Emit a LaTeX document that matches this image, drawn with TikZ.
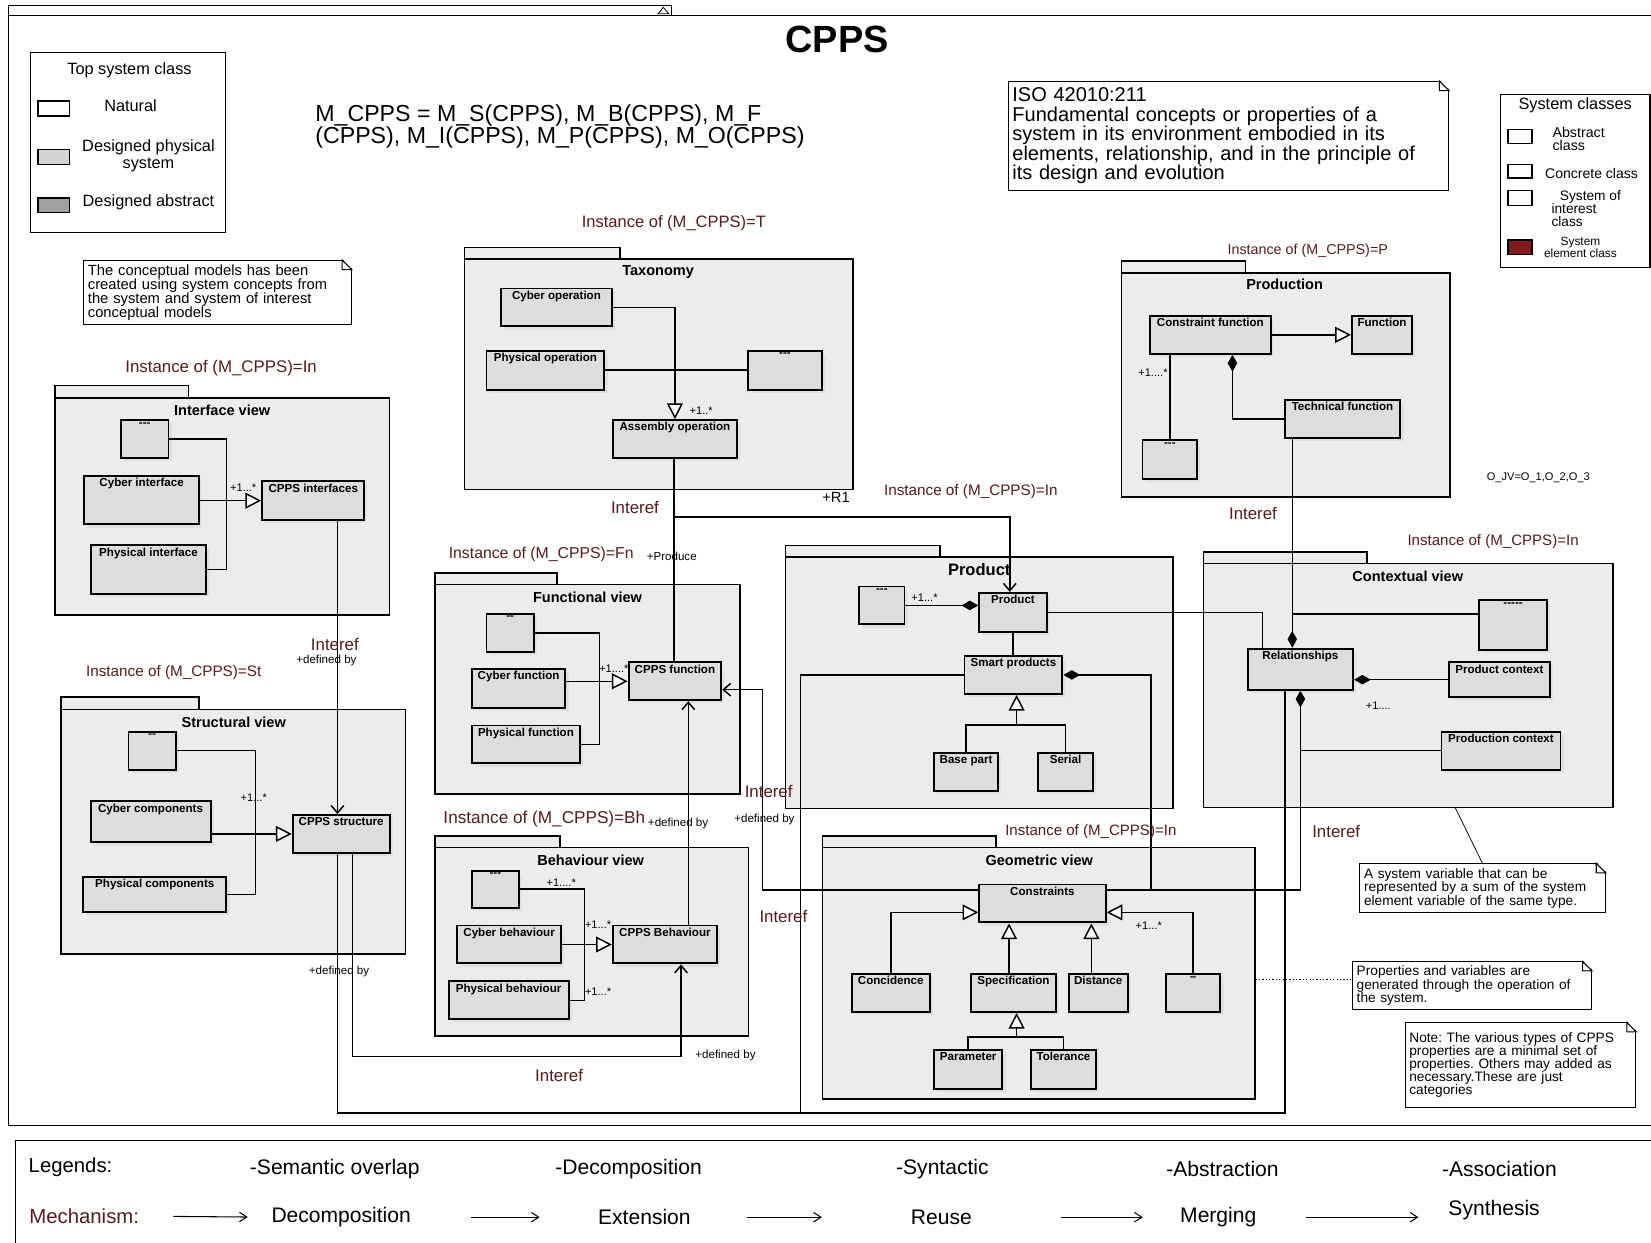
\documentclass[tikz,border=0pt]{standalone}
\usepackage{fontspec}
\setmainfont{Liberation Sans}
\usetikzlibrary{arrows.meta,positioning,fit,calc,shadows}
\frenchspacing

\definecolor{instred}{RGB}{88,26,26}
\definecolor{pkgfill}{RGB}{236,236,236}
\definecolor{clsfill}{RGB}{221,221,221}
\definecolor{elemred}{RGB}{130,26,30}
\definecolor{absgray}{RGB}{160,160,160}
\definecolor{physgray}{RGB}{212,212,212}

\newcommand{\fsz}[2]{\fontsize{#1}{#2}\selectfont}
% dog-eared corner of a note node
\newcommand{\notefold}[1]{%
  \fill[white] ($(#1.north east)+(-9,-1.5)$) -- ($(#1.north east)+(1.5,-1.5)$) -- ($(#1.north east)+(1.5,9)$) -- cycle;
  \draw[line width=1pt] ($(#1.north east)+(-9,0)$) -- ($(#1.north east)+(0,9)$) -- ($(#1.north east)+(-9,9)$) -- cycle;}

\pgfdeclarelayer{pkgs}
\pgfdeclarelayer{wires}
\pgfsetlayers{pkgs,wires,main}

\tikzset{
  pkg/.style={draw, line width=1.5pt, fill=pkgfill},
  cls/.style={draw, line width=1.8pt, fill=clsfill, inner sep=0pt,
    drop shadow={shadow xshift=3pt, shadow yshift=-3pt, opacity=0.1}},
  ctxt/.style={anchor=north, inner sep=3pt, font=\bfseries\fsz{11}{13}},
  ptitle/.style={font=\bfseries\fsz{13.8}{16}},
  inst/.style={text=instred, inner sep=1pt},
  mult/.style={inner sep=1pt, font=\fsz{10.5}{12}},
  role/.style={inner sep=1pt, font=\fsz{11}{13}},
  iref/.style={text=instred, inner sep=1pt, font=\fsz{16}{18}},
  note/.style={draw, line width=1pt, fill=white, align=left, anchor=north west, inner sep=4pt},
  conn/.style={line width=1.4pt},
  inh/.style={-{Triangle[length=15pt, width=15pt, fill=white]}},
  assoc/.style={-{Straight Barb[length=7pt, width=12pt]}},
  compo/.style={-{Diamond[length=16pt, width=9pt]}},
  compostart/.style={{Diamond[length=16pt, width=9pt]}-},
  compoassoc/.style={{Diamond[length=16pt, width=9pt]}-{Straight Barb[length=7pt, width=12pt]}},
  mecharrow/.style={line width=1pt, -{Straight Barb[length=7pt, width=9pt]}}
}

\begin{document}
\begin{tikzpicture}[x=1pt, y=-1pt]
\useasboundingbox (0,0) rectangle (1568,1180);

% outer frame
\draw[line width=1.2pt] (8,15) rectangle (1580,1069);
\draw[line width=1.2pt] (8,15) -- (8,5) -- (638,5) -- (638,15);
\draw[line width=0.8pt] (625,13) -- (630,7) -- (635,13) -- cycle;
\node[font=\bfseries\fsz{36}{40}] (title) at (795,37) {CPPS};

% top system class legend
\draw[line width=1.3pt] (29,50) rectangle (214,221);
\node[font=\fsz{15.5}{17}] (tsc) at (123,67) {Top system class};
\draw[line width=1.3pt, fill=white] (36,96) rectangle (66,110);
\node[font=\fsz{15.5}{17}] (tscnat) at (124,100) {Natural};
\draw[line width=1.3pt, fill=physgray] (36,142) rectangle (66,156);
\node[font=\fsz{15.5}{16}, align=center] (tscphy) at (141,148) {Designed physical\\system};
\draw[line width=1.3pt, fill=absgray] (36,188) rectangle (66,202);
\node[font=\fsz{15.5}{17}] (tscabs) at (141,192) {Designed abstract};

% formula
\node[anchor=west, align=left, font=\fsz{22}{19}] (formula) at (296,120)
  {M\_CPPS = M\_S(CPPS), M\_B(CPPS), M\_F\\(CPPS), M\_I(CPPS), M\_P(CPPS), M\_O(CPPS)};

% notes
\node[note, text width=410pt, inner ysep=6pt, font=\fsz{19}{18.5}] (iso) at (957,77)
  {ISO 42010:211\\Fundamental concepts or properties of a\\system in its environment embodied in its\\elements, relationship, and in the principle of\\its design and evolution};
\notefold{iso}
\node[note, text width=246pt, font=\fsz{14}{13.3}] (concnote) at (79,247)
  {The conceptual models has been\\created using system concepts from\\the system and system of interest\\conceptual models};
\notefold{concnote}
\node[note, text width=225pt, font=\fsz{13}{13}] (sysnote) at (1291,820)
  {A system variable that can be\\represented by a sum of the system\\element variable of the same type.};
\notefold{sysnote}
\node[note, text width=219pt, font=\fsz{13}{12.5}] (propnote) at (1284,913)
  {Properties and variables are\\generated through the operation of\\the system.};
\notefold{propnote}
\node[note, text width=211pt, inner ysep=9pt, font=\fsz{13}{12.5}] (catnote) at (1334,971)
  {Note: The various types of CPPS\\properties are a minimal set of\\properties. Others may added as\\necessary.These are just\\categories};
\notefold{catnote}

% system classes legend
\draw[line width=1.3pt] (1425,90) rectangle (1567,254);
\node[font=\fsz{15.5}{17}] (scl) at (1496,100) {System classes};
\draw[line width=1.3pt, fill=white] (1432,123) rectangle (1455,136);
\node[anchor=west, align=left, font=\fsz{13.5}{13}] (sclabs) at (1471,132) {Abstract\\class};
\draw[line width=1.3pt, fill=white] (1432,156) rectangle (1455,169);
\node[anchor=west, font=\fsz{13.3}{14}] (sclcon) at (1464,165) {Concrete class};
\draw[line width=1.3pt, fill=white] (1432,181) rectangle (1455,195);
\node[anchor=west, align=left, font=\fsz{13}{12.3}] (sclsoi) at (1470,198) {\hspace*{8pt}System of\\interest\\class};
\draw[line width=1.3pt, fill=elemred] (1432,228) rectangle (1455,242);
\node[align=center, font=\fsz{11.3}{10.5}] (sclele) at (1501,235) {System\\element class};
\node[font=\fsz{10.5}{12}] (ojv) at (1461,454) {O\_JV=O\_1,O\_2,O\_3};

% packages
\begin{pgfonlayer}{pkgs}
  \draw[pkg] (441,235) rectangle (589,246);
  \draw[pkg] (441,246) rectangle (810,465);
  \draw[pkg] (52,366) rectangle (179,378);
  \draw[pkg] (52,378) rectangle (370,584);
  \draw[pkg] (58,662) rectangle (189,674);
  \draw[pkg] (58,674) rectangle (385,906);
  \draw[pkg] (413,544) rectangle (529,555);
  \draw[pkg] (413,555) rectangle (703,754);
  \draw[pkg] (413,794) rectangle (532,805);
  \draw[pkg] (413,805) rectangle (711,984);
  \draw[pkg] (746,518) rectangle (893,529);
  \draw[pkg] (746,529) rectangle (1114,768);
  \draw[pkg] (1065,248) rectangle (1183,259);
  \draw[pkg] (1065,259) rectangle (1377,472);
  \draw[pkg] (1143,524) rectangle (1298,535);
  \draw[pkg] (1143,535) rectangle (1532,767);
  \draw[pkg] (781,794) rectangle (946,805);
  \draw[pkg] (781,805) rectangle (1192,1044);
\end{pgfonlayer}

% package titles and instance labels
\node[ptitle] (taxt) at (625,258) {Taxonomy};
\node[ptitle] (ifvt) at (211,390) {Interface view};
\node[ptitle] (stvt) at (222,686) {Structural view};
\node[ptitle] (fnvt) at (558,567) {Functional view};
\node[ptitle] (bhvt) at (561,817) {Behaviour view};
\node[font=\bfseries\fsz{15.7}{18}] (prdt) at (930,541) {Product};
\node[ptitle] (prnt) at (1220,270) {Production};
\node[ptitle] (ctxt) at (1337,547) {Contextual view};
\node[ptitle] (geot) at (987,817) {Geometric view};

\node[inst, font=\fsz{15.7}{18}] (instT) at (640,212) {Instance of (M\_CPPS)=T};
\node[inst, font=\fsz{16}{18}] (instIf) at (210,350) {Instance of (M\_CPPS)=In};
\node[inst, font=\fsz{14.5}{17}] (instSt) at (165,639) {Instance of (M\_CPPS)=St};
\node[inst, font=\fsz{15}{17}] (instFn) at (514,527) {Instance of (M\_CPPS)=Fn};
\node[inst, font=\fsz{16.3}{18}] (instBh) at (517,778) {Instance of (M\_CPPS)=Bh};
\node[inst, font=\fsz{14.5}{17}] (instPd) at (922,467) {Instance of (M\_CPPS)=In};
\node[inst, font=\fsz{13.6}{16}] (instP) at (1242,238) {Instance of (M\_CPPS)=P};
\node[inst, font=\fsz{14.3}{17}] (instCx) at (1418,514) {Instance of (M\_CPPS)=In};
\node[inst, font=\fsz{14.3}{17}] (instGe) at (1036,790) {Instance of (M\_CPPS)=In};

% taxonomy classes
\node[cls, fit={(476,274) (581,310)}, label={[ctxt]north:Cyber operation}] (tcyb) {};
\node[cls, fit={(462,333) (574,370)}, label={[ctxt]north:Physical operation}] (tphy) {};
\node[cls, fit={(710,333) (781,370)}, label={[ctxt]north:-{}-{}-}] (tdash) {};
\node[cls, fit={(582,399) (700,435)}, label={[ctxt]north:Assembly operation}] (tasm) {};

% interface classes
\node[cls, fit={(115,399) (160,435)}, label={[ctxt]north:-{}-{}-}] (idash) {};
\node[cls, fit={(80,452) (189,498)}, label={[ctxt]north:Cyber interface}] (icyb) {};
\node[cls, fit={(86,518) (196,564)}, label={[ctxt]north:Physical interface}] (iphy) {};
\node[cls, fit={(249,457) (346,494)}, label={[ctxt]north:CPPS interfaces}] (icpps) {};

% structural classes
\node[cls, fit={(122,695) (167,731)}, label={[ctxt]north:-{}-}] (sdash) {};
\node[cls, fit={(86,761) (200,800)}, label={[ctxt]north:Cyber components}] (scyb) {};
\node[cls, fit={(79,833) (215,866)}, label={[ctxt]north:Physical components}] (sphy) {};
\node[cls, fit={(278,774) (370,810)}, label={[ctxt]north:CPPS structure}] (scpps) {};

% functional classes
\node[cls, fit={(462,583) (507,619)}, label={[ctxt]north:-{}-}] (fdash) {};
\node[cls, fit={(448,635) (537,672)}, label={[ctxt]north:Cyber function}] (fcyb) {};
\node[cls, fit={(448,689) (551,725)}, label={[ctxt]north:Physical function}] (fphy) {};
\node[cls, fit={(597,629) (685,665)}, label={[ctxt]north:CPPS function}] (fcpps) {};

% behaviour classes
\node[cls, fit={(448,827) (493,862)}, label={[ctxt]north:-{}-{}-}] (bdash) {};
\node[cls, fit={(434,879) (533,915)}, label={[ctxt]north:Cyber behaviour}] (bcyb) {};
\node[cls, fit={(426,932) (540,968)}, label={[ctxt]north:Physical behaviour}] (bphy) {};
\node[cls, fit={(582,879) (681,915)}, label={[ctxt]north:CPPS Behaviour}] (bcpps) {};

% product classes
\node[cls, fit={(816,557) (859,593)}, label={[ctxt]north:-{}-{}-}] (pdash) {};
\node[cls, fit={(930,563) (994,600)}, label={[ctxt]north:Product}] (pprod) {};
\node[cls, fit={(916,623) (1009,659)}, label={[ctxt]north:Smart products}] (psmart) {};
\node[cls, fit={(887,715) (948,751)}, label={[ctxt]north:Base part}] (pbase) {};
\node[cls, fit={(986,715) (1038,751)}, label={[ctxt]north:Serial}] (pser) {};

% production classes
\node[cls, fit={(1092,300) (1207,336)}, label={[ctxt]north:Constraint function}] (rcons) {};
\node[cls, fit={(1284,300) (1341,336)}, label={[ctxt]north:Function}] (rfun) {};
\node[cls, fit={(1220,380) (1330,416)}, label={[ctxt]north:Technical function}] (rtech) {};
\node[cls, fit={(1085,418) (1137,455)}, label={[ctxt]north:-{}-{}-}] (rdash) {};

% contextual classes
\node[cls, fit={(1405,570) (1469,617)}, label={[ctxt]north:-{}-{}-{}-{}-}] (cdash) {};
\node[cls, fit={(1185,616) (1285,655)}, label={[ctxt]north:Relationships}] (crel) {};
\node[cls, fit={(1376,629) (1472,662)}, label={[ctxt]north:Product context}] (cprod) {};
\node[cls, fit={(1369,695) (1482,731)}, label={[ctxt]north:Production context}] (cprodn) {};

% geometric classes
\node[cls, fit={(930,840) (1050,876)}, label={[ctxt]north:Constraints}] (gcons) {};
\node[cls, fit={(809,925) (883,961)}, label={[ctxt]north:Concidence}] (gcoin) {};
\node[cls, fit={(922,925) (1003,961)}, label={[ctxt]north:Specification}] (gspec) {};
\node[cls, fit={(1015,925) (1071,961)}, label={[ctxt]north:Distance}] (gdist) {};
\node[cls, fit={(1107,925) (1159,961)}, label={[ctxt]north:\textendash}] (gdash) {};
\node[cls, fit={(887,997) (952,1034)}, label={[ctxt]north:Parameter}] (gpar) {};
\node[cls, fit={(979,997) (1041,1034)}, label={[ctxt]north:Tolerance}] (gtol) {};

% multiplicities and roles
\node[mult] (mT) at (666,390) {+1..*};
\node[mult] (mIf) at (231,463) {+1...*};
\node[mult] (mSt) at (241,758) {+1...*};
\node[mult] (mFn) at (583,635) {+1....*};
\node[mult] (mBh1) at (533,838) {+1....*};
\node[mult] (mBh2) at (568,878) {+1...*};
\node[mult] (mBh3) at (568,942) {+1...*};
\node[mult] (mPd) at (878,568) {+1...*};
\node[mult] (mPn) at (1095,354) {+1....*};
\node[mult] (mCx) at (1309,670) {+1....};
\node[mult] (mGe) at (1091,879) {+1...*};
\node[font=\fsz{14}{16}, inner sep=1pt] (rR1) at (794,472) {+R1};
\node[role] (rProd) at (638,528) {+Produce};
\node[role] (rDef1) at (310,627) {+defined by};
\node[role] (rDef2) at (644,782) {+defined by};
\node[role] (rDef3) at (726,778) {+defined by};
\node[role] (rDef4) at (689,1002) {+defined by};
\node[role] (rDef5) at (322,923) {+defined by};
\node[iref] (ir1) at (603,482) {Interef};
\node[iref] (ir2) at (318,612) {Interef};
\node[iref] (ir3) at (730,752) {Interef};
\node[iref] (ir4) at (744,870) {Interef};
\node[iref] (ir5) at (531,1021) {Interef};
\node[iref] (ir6) at (1190,488) {Interef};
\node[iref] (ir7) at (1269,790) {Interef};

% bottom legend
\draw[line width=1.3pt] (15,1083) rectangle (1580,1195);
\node[font=\fsz{19.3}{22}] (lgd) at (67,1109) {Legends:};
\node[font=\fsz{20}{22}] (lsem) at (318,1110) {-Semantic overlap};
\node[font=\fsz{20}{22}] (ldec) at (597,1110) {-Decomposition};
\node[font=\fsz{20}{22}] (lsyn) at (895,1110) {-Syntactic};
\node[font=\fsz{20}{22}] (labs) at (1161,1110) {-Abstraction};
\node[font=\fsz{20}{22}] (lass) at (1424,1110) {-Association};
\node[text=instred, font=\fsz{19.3}{22}] (mech) at (80,1155) {Mechanism:};
\node[font=\fsz{20}{22}] (mdec) at (324,1156) {Decomposition};
\node[font=\fsz{20}{22}] (mext) at (612,1156) {Extension};
\node[font=\fsz{20}{22}] (mreu) at (894,1156) {Reuse};
\node[font=\fsz{20}{22}] (mmer) at (1157,1156) {Merging};
\node[font=\fsz{20}{22}] (msyn) at (1419,1149) {Synthesis};
\draw[mecharrow, shorten <=29pt, shorten >=19pt] (mech.east) -- (mdec.west);
\draw[mecharrow, shorten <=54pt, shorten >=52pt] (mdec.east) -- (mext.west);
\draw[mecharrow, shorten <=50pt, shorten >=81pt] (mext.east) -- (mreu.west);
\draw[mecharrow, shorten <=81pt, shorten >=32pt] (mreu.east) -- (mmer.west);
\draw[mecharrow, shorten <=44pt, shorten >=25pt] (mmer.east) -- (msyn.west |- mmer.east);

% connectors
\begin{pgfonlayer}{wires}
  % taxonomy
  \draw[conn, inh] (tcyb.east) -| (tasm.north);
  \draw[conn] (tphy.east) -- (tdash.west);
  \coordinate (jT) at (640,491);
  \draw[conn, assoc] (tasm.south -| jT) -- (jT) -| ($(pprod.north)+(-3,0)$);
  \draw[conn] (fcpps.north -| jT) -- (jT);
  % interface
  \draw[conn] (idash.east) -| ($(iphy.east)+(18,0)$) -- (iphy.east);
  \draw[conn, inh] (icyb.east |- icpps.west) -- (icpps.west);
  \coordinate (jI) at (320.5,600);
  \draw[conn, assoc] (icpps.south -| jI) -- (scpps.north -| jI);
  % structural
  \draw[conn] (sdash.east) -| ($(sphy.east)+(27,0)$) -- (sphy.east);
  \draw[conn, inh] (scyb.east |- scpps.west) -- (scpps.west);
  \coordinate (jS) at (334.6,1003.5);
  \coordinate (jS2) at (646.8,1003.5);
  \draw[conn, assoc] (scpps.south -| jS) -- (jS) -- (jS2) -- (bcpps.south -| jS2);
  \coordinate (jL) at (320.4,1057);
  \coordinate (jR) at (1220.4,1057);
  \draw[conn] (scpps.south -| jL) -- (jL) -- (jR) -- (crel.south -| jR);
  % functional
  \draw[conn] (fdash.east) -| ($(fphy.east)+(17.5,0)$) -- (fphy.east);
  \draw[conn, inh] (fcyb.east |- fcpps.west) -- (fcpps.west);
  \coordinate (jB) at (653.7,780);
  \draw[conn, assoc] (bcpps.north -| jB) -- (fcpps.south -| jB);
  \coordinate (jF) at (724.3,845.3);
  \draw[conn, compoassoc] (crel.south) |- (jF) |- ($(fcpps.east)+(0,8)$);
  % behaviour
  \draw[conn] (bdash.east) -| ($(bphy.east)+(14,0)$) -- (bphy.east);
  \draw[conn, inh] (bcyb.east |- bcpps.west) -- (bcpps.west);
  % product
  \draw[conn, compo] (pdash.east) -- (pdash.east -| pprod.west);
  \draw[conn] (pprod.south) -- (pprod.south |- psmart.north);
  \coordinate (jP) at (965.5,688.5);
  \draw[conn] (pbase.north) |- (jP) -| (pser.north);
  \draw[conn, inh] (jP) -- (psmart.south -| jP);
  \coordinate (jQ) at (1093,845.3);
  \draw[conn, compostart] (psmart.east) -| (jQ);
  \coordinate (jM) at (760.2,1057);
  \draw[conn] (psmart.west) -| (jM);
  \draw[conn] (pprod.east) -| ($(crel.north)+(-36,0)$);
  % production
  \draw[conn, inh] (rcons.east) -- (rfun.west);
  \draw[conn] (rdash.north) -- (rdash.north |- rcons.south);
  \draw[conn, compo] (rtech.west) -| ($(rcons.south)+(21,0)$);
  \coordinate (jC) at (1227.3,583.3);
  \draw[conn, compo] (rtech.south -| jC) -- (crel.north -| jC);
  % contextual
  \draw[conn] (cdash.west |- jC) -- (jC);
  \draw[conn, compostart] (crel.east |- cprod.west) -- (cprod.west);
  \draw[conn] (cprodn.west) -- (cprodn.west -| crel.south);
  % geometric
  \draw[conn, inh] (gcoin.north) |- ($(gcons.west)+(0,8.5)$);
  \coordinate (jG1) at (958.3,900);
  \coordinate (jG2) at (1036.5,900);
  \draw[conn, inh] (gspec.north -| jG1) -- (gcons.south -| jG1);
  \draw[conn, inh] (gdist.north -| jG2) -- (gcons.south -| jG2);
  \draw[conn, inh] (gdash.north) |- ($(gcons.east)+(0,8.5)$);
  \coordinate (jG) at (965.5,985);
  \draw[conn] (gpar.north) |- (jG) -| (gtol.north);
  \draw[conn, inh] (jG) -- (gspec.south -| jG);
  % notes
  \coordinate (ctxb) at (1382,767);
  \draw[line width=0.7pt] (ctxb) -- (sysnote.north);
  \coordinate (geor) at (1192.5,930);
  \draw[dotted, line width=1.2pt] (geor) -- (geor -| propnote.west);
\end{pgfonlayer}
\end{tikzpicture}
\end{document}
